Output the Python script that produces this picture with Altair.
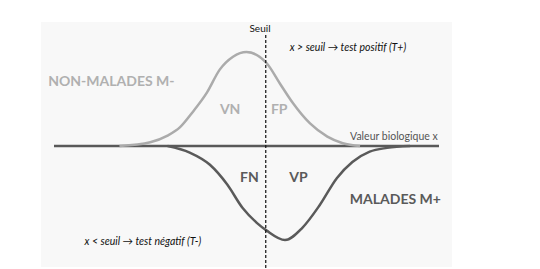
import altair as alt
import pandas as pd

# Curves (x: biological value units, y: relative density; malades drawn below axis)
nm_x = [3.4, 5.0, 5.9, 6.55, 7.2, 7.95, 8.6, 9.3, 10.0, 11.05, 11.75, 12.4, 13.3, 14.2, 15.0, 15.9]
nm_y = [0.0, 0.04, 0.11, 0.20, 0.36, 0.57, 0.81, 0.95, 1.0, 0.88, 0.66, 0.46, 0.24, 0.10, 0.03, 0.0]

m_x = [5.9, 7.05, 8.1, 9.0, 9.8, 10.55, 11.05, 12.0, 12.9, 13.8, 14.7, 15.5, 16.4, 17.3, 18.5]
m_y = [0.0, -0.07, -0.20, -0.41, -0.66, -0.82, -0.90, -1.0, -0.87, -0.63, -0.34, -0.17, -0.06, -0.02, 0.0]

axis_start, axis_end = 0.0, 20.0
seuil = 11.0
seuil_top, seuil_bottom = 1.18, -1.31

labels_big = ["NON-MALADES M-", "MALADES M+"]
labels_big_x = [-0.3, 20.1]
labels_big_y = [0.68, -0.575]

labels_zone = ["VN", "FP", "FN", "VP"]
labels_zone_x = [9.15, 11.7, 10.15, 12.7]
labels_zone_y = [0.38, 0.38, -0.34, -0.34]

rules_text = ["x > seuil \u2192 test positif (T+)", "x < seuil \u2192 test négatif (T-)"]
rules_x = [15.27, 4.62]
rules_y = [1.04, -1.02]

xs = alt.Scale(domain=[0, 20], range=[13, 398])
ys = alt.Scale(domain=[-1, 1], range=[218, 30])
X = lambda f: alt.X(f, scale=xs, axis=None)
Y = lambda f: alt.Y(f, scale=ys, axis=None)

nm = pd.DataFrame({"x": nm_x, "y": nm_y})
m = pd.DataFrame({"x": m_x, "y": m_y})

base_axis = alt.Chart(pd.DataFrame({"x": [axis_start], "x2": [axis_end], "y": [0.0]})).mark_rule(
    color="#595959", strokeWidth=2.5
).encode(x=X("x:Q"), x2="x2:Q", y=Y("y:Q"))

nm_line = alt.Chart(nm).mark_line(color="#ababab", strokeWidth=2.5, interpolate="monotone").encode(
    x=X("x:Q"), y=Y("y:Q"), order="x:Q"
)
m_line = alt.Chart(m).mark_line(color="#5a5a5a", strokeWidth=2.5, interpolate="monotone").encode(
    x=X("x:Q"), y=Y("y:Q"), order="x:Q"
)

seuil_rule = alt.Chart(pd.DataFrame({"x": [seuil], "y": [seuil_top], "y2": [seuil_bottom]})).mark_rule(
    color="#111111", strokeWidth=1.2, strokeDash=[3, 2]
).encode(x=X("x:Q"), y=Y("y:Q"), y2="y2:Q")

seuil_lbl = alt.Chart(pd.DataFrame({"t": ["Seuil"], "x": [10.7], "y": [1.245]})).mark_text(
    font="Lato", fontSize=10, color="#111111", align="center", baseline="middle"
).encode(x=X("x:Q"), y=Y("y:Q"), text="t:N")

big = pd.DataFrame({"t": labels_big, "x": labels_big_x, "y": labels_big_y})
big_nm = alt.Chart(big.iloc[[0]]).mark_text(
    font="Lato", fontSize=14, fontWeight="bold", color="#b0b0b0", align="left", baseline="middle"
).encode(x=X("x:Q"), y=Y("y:Q"), text="t:N")
big_m = alt.Chart(big.iloc[[1]]).mark_text(
    font="Lato", fontSize=14, fontWeight="bold", color="#5a5a5a", align="right", baseline="middle"
).encode(x=X("x:Q"), y=Y("y:Q"), text="t:N")

zones = pd.DataFrame({"t": labels_zone, "x": labels_zone_x, "y": labels_zone_y})
zone_top = alt.Chart(zones.iloc[:2]).mark_text(
    font="Lato", fontSize=14, fontWeight="bold", color="#b0b0b0", align="center", baseline="middle"
).encode(x=X("x:Q"), y=Y("y:Q"), text="t:N")
zone_bot = alt.Chart(zones.iloc[2:]).mark_text(
    font="Lato", fontSize=14, fontWeight="bold", color="#5a5a5a", align="center", baseline="middle"
).encode(x=X("x:Q"), y=Y("y:Q"), text="t:N")

valeur = alt.Chart(pd.DataFrame({"t": ["Valeur biologique x"], "x": [15.38], "y": [0.096]})).mark_text(
    font="Lato", fontSize=10.5, color="#555555", align="left", baseline="middle"
).encode(x=X("x:Q"), y=Y("y:Q"), text="t:N")

rules_lbl = alt.Chart(pd.DataFrame({"t": rules_text, "x": rules_x, "y": rules_y})).mark_text(
    font="Lato", fontSize=10.5, fontStyle="italic", color="#111111", align="center", baseline="middle"
).encode(x=X("x:Q"), y=Y("y:Q"), text="t:N")

chart = alt.layer(
    base_axis, nm_line, m_line, seuil_rule, seuil_lbl, big_nm, big_m, zone_top, zone_bot, valeur, rules_lbl
).properties(
    width=411, height=245,
    padding={"left": 41, "top": 22, "right": 88, "bottom": 2},
    autosize=alt.AutoSizeParams(type="none"),
    background="white",
).configure_view(fill="#f8f8f8", stroke=None)

chart.save("out.html", embed_options={"renderer": "svg", "actions": False})
